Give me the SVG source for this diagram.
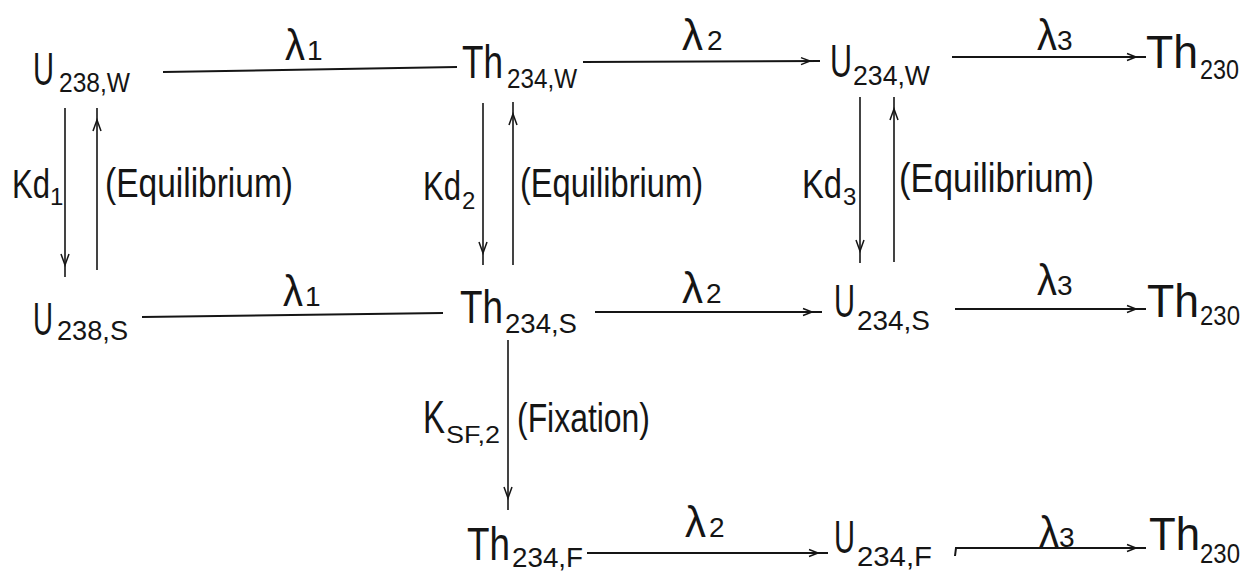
<svg xmlns="http://www.w3.org/2000/svg" width="1247" height="572" viewBox="0 0 1247 572">
<style>
text{font-family:"Liberation Sans",Arial,sans-serif;fill:#151515}
.m{font-size:46px}
.s{font-size:27px}
.lam{font-size:44px}
.ls{font-size:28px}
.k{font-size:40px}
.ks{font-size:24px}
.e{font-size:40px}
.h{stroke:#151515;stroke-width:2;fill:none}
.v{stroke:#151515;stroke-width:1.6;fill:none}
</style>
<defs>
<marker id="ah" markerUnits="userSpaceOnUse" markerWidth="24" markerHeight="12" viewBox="-22 -6 24 12" refX="0" refY="0" orient="auto" style="overflow:visible">
<path d="M-19,-3.5 L-10,0 L-19,3.5" fill="none" stroke="#151515" stroke-width="1.5"/>
</marker>
<marker id="av" markerUnits="userSpaceOnUse" markerWidth="26" markerHeight="12" viewBox="-24 -6 26 12" refX="0" refY="0" orient="auto" style="overflow:visible">
<path d="M-23,-4 L-12,0 L-23,4" fill="none" stroke="#151515" stroke-width="1.5"/>
</marker>
</defs>

<g id="connectors">
<path class="h" d="M163,72 L457,67"/>
<path class="h" d="M583,62 L820,61" marker-end="url(#ah)"/>
<path class="h" d="M952,57 L1146,57" marker-end="url(#ah)"/>
<path class="h" d="M142,317 L443,313"/>
<path class="h" d="M595,312 L822,312" marker-end="url(#ah)"/>
<path class="h" d="M955,309 L1146,309" marker-end="url(#ah)"/>
<path class="h" d="M587,553 L828,553" marker-end="url(#ah)"/>
<path class="h" d="M955,556 L956,548 L1146,548" marker-end="url(#ah)"/>
<path class="v" d="M65,108 L65,277" marker-end="url(#av)"/>
<path class="v" d="M97,270 L97,108" marker-end="url(#av)"/>
<path class="v" d="M483,103 L483,265" marker-end="url(#av)"/>
<path class="v" d="M513,265 L513,102" marker-end="url(#av)"/>
<path class="v" d="M860,97 L860,263" marker-end="url(#av)"/>
<path class="v" d="M894,262 L894,97" marker-end="url(#av)"/>
<path class="v" d="M508,340 L508,510" marker-end="url(#av)"/>
</g>

<g id="labels">
<text class="lam" x="285" y="60"><tspan textLength="20" lengthAdjust="spacingAndGlyphs">λ</tspan><tspan class="ls" x="307" y="60">1</tspan></text>
<text class="lam" x="682" y="50"><tspan textLength="21" lengthAdjust="spacingAndGlyphs">λ</tspan><tspan class="ls" x="707" y="50">2</tspan></text>
<text class="lam" x="1037" y="50"><tspan textLength="20" lengthAdjust="spacingAndGlyphs">λ</tspan><tspan class="ls" x="1057" y="50">3</tspan></text>
<text class="lam" x="283" y="306"><tspan textLength="20" lengthAdjust="spacingAndGlyphs">λ</tspan><tspan class="ls" x="305" y="306">1</tspan></text>
<text class="lam" x="682" y="303"><tspan textLength="21" lengthAdjust="spacingAndGlyphs">λ</tspan><tspan class="ls" x="706" y="303">2</tspan></text>
<text class="lam" x="1037" y="295"><tspan textLength="20" lengthAdjust="spacingAndGlyphs">λ</tspan><tspan class="ls" x="1057" y="295">3</tspan></text>
<text class="lam" x="685" y="537"><tspan textLength="21" lengthAdjust="spacingAndGlyphs">λ</tspan><tspan class="ls" x="709" y="537">2</tspan></text>
<text class="lam" x="1039" y="547"><tspan textLength="20" lengthAdjust="spacingAndGlyphs">λ</tspan><tspan class="ls" x="1059" y="547">3</tspan></text>
<text class="k" x="12" y="198"><tspan textLength="38" lengthAdjust="spacingAndGlyphs">Kd</tspan><tspan class="ks" x="50" y="205">1</tspan></text>
<text class="k" x="423" y="200"><tspan textLength="38" lengthAdjust="spacingAndGlyphs">Kd</tspan><tspan class="ks" x="462" y="209">2</tspan></text>
<text class="k" x="802" y="198"><tspan textLength="40" lengthAdjust="spacingAndGlyphs">Kd</tspan><tspan class="ks" x="843" y="205">3</tspan></text>
<text class="e" x="105" y="197" textLength="188" lengthAdjust="spacingAndGlyphs">(Equilibrium)</text>
<text class="e" x="520" y="197" textLength="183" lengthAdjust="spacingAndGlyphs">(Equilibrium)</text>
<text class="e" x="899" y="192" textLength="195" lengthAdjust="spacingAndGlyphs">(Equilibrium)</text>
<text class="m" x="423" y="433"><tspan textLength="22" lengthAdjust="spacingAndGlyphs">K</tspan><tspan class="ks" x="446" y="443" textLength="54" lengthAdjust="spacingAndGlyphs">SF,2</tspan></text>
<text class="e" x="517" y="432" textLength="133" lengthAdjust="spacingAndGlyphs">(Fixation)</text>
</g>

<g id="U238W"><text class="m" x="33" y="85"><tspan textLength="21" lengthAdjust="spacingAndGlyphs">U</tspan><tspan class="s" x="59" y="92" textLength="71" lengthAdjust="spacingAndGlyphs">238,W</tspan></text></g>
<g id="Th234W"><text class="m" x="462" y="78"><tspan textLength="41" lengthAdjust="spacingAndGlyphs">Th</tspan><tspan class="s" x="507" y="88" textLength="70" lengthAdjust="spacingAndGlyphs">234,W</tspan></text></g>
<g id="U234W"><text class="m" x="830" y="77"><tspan textLength="22" lengthAdjust="spacingAndGlyphs">U</tspan><tspan class="s" x="853" y="85" textLength="77" lengthAdjust="spacingAndGlyphs">234,W</tspan></text></g>
<g id="Th230W"><text class="m" x="1146" y="68"><tspan textLength="52" lengthAdjust="spacingAndGlyphs">Th</tspan><tspan class="s" x="1200" y="79" textLength="39" lengthAdjust="spacingAndGlyphs">230</tspan></text></g>
<g id="U238S"><text class="m" x="33" y="335"><tspan textLength="20" lengthAdjust="spacingAndGlyphs">U</tspan><tspan class="s" x="57" y="340" textLength="71" lengthAdjust="spacingAndGlyphs">238,S</tspan></text></g>
<g id="Th234S"><text class="m" x="460" y="323"><tspan textLength="43" lengthAdjust="spacingAndGlyphs">Th</tspan><tspan class="s" x="505" y="333" textLength="72" lengthAdjust="spacingAndGlyphs">234,S</tspan></text></g>
<g id="U234S"><text class="m" x="834" y="317"><tspan textLength="21" lengthAdjust="spacingAndGlyphs">U</tspan><tspan class="s" x="857" y="330" textLength="73" lengthAdjust="spacingAndGlyphs">234,S</tspan></text></g>
<g id="Th230S"><text class="m" x="1147" y="317"><tspan textLength="52" lengthAdjust="spacingAndGlyphs">Th</tspan><tspan class="s" x="1200" y="325" textLength="40" lengthAdjust="spacingAndGlyphs">230</tspan></text></g>
<g id="Th234F"><text class="m" x="467" y="560"><tspan textLength="43" lengthAdjust="spacingAndGlyphs">Th</tspan><tspan class="s" x="512" y="567" textLength="71" lengthAdjust="spacingAndGlyphs">234,F</tspan></text></g>
<g id="U234F"><text class="m" x="834" y="553"><tspan textLength="21" lengthAdjust="spacingAndGlyphs">U</tspan><tspan class="s" x="857" y="566" textLength="75" lengthAdjust="spacingAndGlyphs">234,F</tspan></text></g>
<g id="Th230F"><text class="m" x="1149" y="550"><tspan textLength="51" lengthAdjust="spacingAndGlyphs">Th</tspan><tspan class="s" x="1200" y="563" textLength="40" lengthAdjust="spacingAndGlyphs">230</tspan></text></g>
</svg>
